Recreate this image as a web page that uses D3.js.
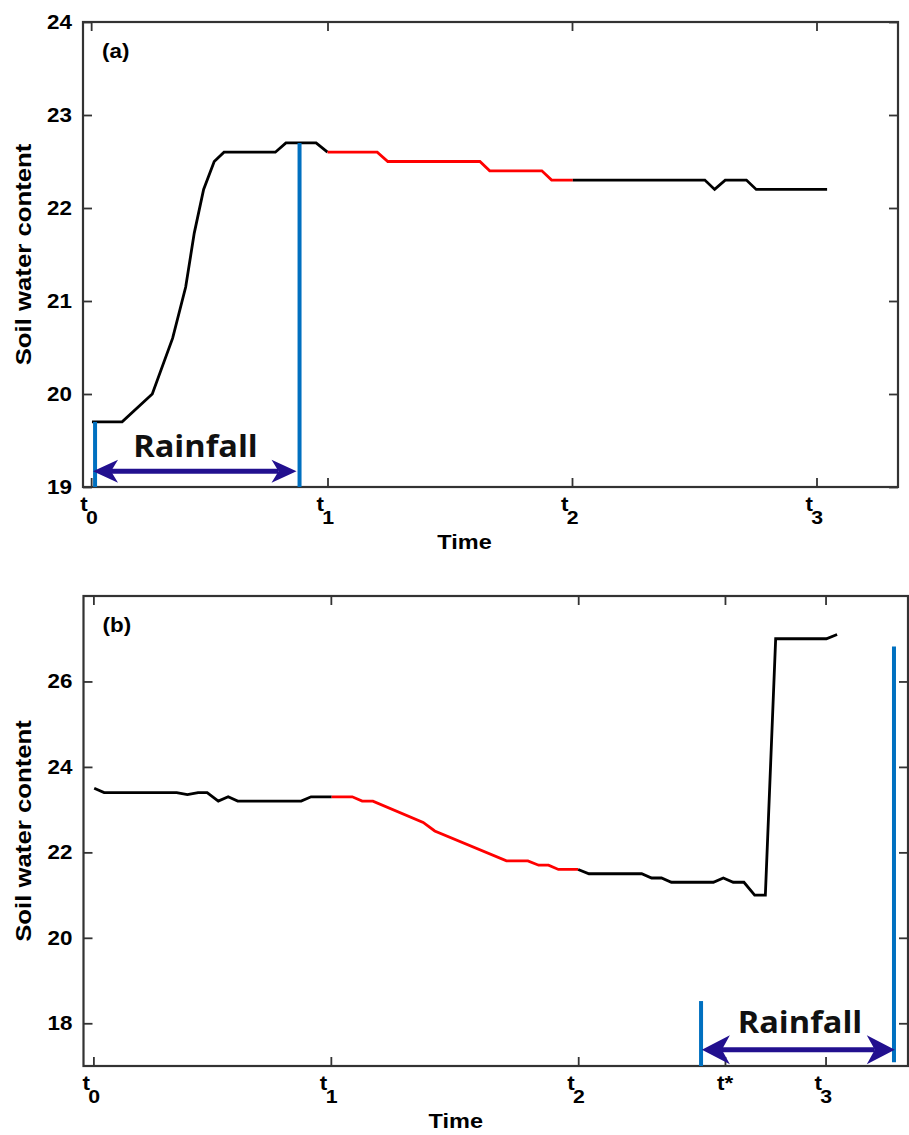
<!DOCTYPE html>
<html>
<head>
<meta charset="utf-8">
<script src="https://cdn.jsdelivr.net/npm/d3@7"></script>
<style>
  html, body { margin: 0; padding: 0; background: #ffffff; }
  svg { display: block; }
</style>
</head>
<body>
<svg id="chart" width="909" height="1135"></svg>
<script>
// ---------------- DATA ----------------
// Panel (a)
const timeA = [1.1, 4.8, 8.5, 11.0, 12.6, 13.65, 14.8, 16.1, 17.3, 23.6,
               24.9, 28.6, 30.0, 36.1, 37.4, 48.7, 49.9, 56.3, 57.5, 60.1,
               76.3, 77.5, 78.8, 81.4, 82.6, 91.3];
const valA  = [19.7, 19.7, 20.0, 20.6, 21.15, 21.73, 22.2, 22.5, 22.6, 22.6,
               22.7, 22.7, 22.6, 22.6, 22.5, 22.5, 22.4, 22.4, 22.3, 22.3,
               22.3, 22.2, 22.3, 22.3, 22.2, 22.2];
const redRangeA = [30.0, 60.1];
const yTicksA = [19, 20, 21, 22, 23, 24];
const xTicksA = [1, 30, 60, 90];
const xTickLabelsA = [["t", "0"], ["t", "1"], ["t", "2"], ["t", "3"]];
const rainA = { start: 1.48, end: 26.57, startTop: 19.7, endTop: 22.7, bottom: 19.0,
                arrowFrom: 1.23, arrowTo: 26.2, arrowAt: 19.17, textAt: 13.8, textY: 19.32 };

// Panel (b)
const timeB = [1.3, 2.5, 11.3, 12.6, 13.9, 15.0, 16.35, 17.55, 18.7, 26.4,
               27.6, 30.1, 32.6, 33.8, 35.1, 41.2, 42.6, 51.3, 53.9, 55.2,
               56.4, 57.6, 60.0, 61.3, 67.7, 68.9, 70.1, 71.3, 76.4, 77.6,
               78.8, 80.1, 81.4, 82.7, 83.95, 90.1, 91.4];
const valB  = [23.5, 23.4, 23.4, 23.35, 23.4, 23.4, 23.2, 23.3, 23.2, 23.2,
               23.3, 23.3, 23.3, 23.2, 23.2, 22.7, 22.5, 21.8, 21.8, 21.7,
               21.7, 21.6, 21.6, 21.5, 21.5, 21.4, 21.4, 21.3, 21.3, 21.4,
               21.3, 21.3, 21.0, 21.0, 27.0, 27.0, 27.1];
const redRangeB = [30.1, 60.0];
const yTicksB = [18, 20, 22, 24, 26];
const xTicksB = [1.2, 30, 60, 77.8, 90];
const xTickLabelsB = [["t", "0"], ["t", "1"], ["t", "2"], ["t*", ""], ["t", "3"]];
const rainB = { start: 74.9, end: 98.3, startTop: 18.52, endTop: 26.82, bottom: 17.0, endBottom: 17.09,
                arrowFrom: 75.0, arrowTo: 98.4, arrowAt: 17.38, textAt: 86.9, textY: 17.78 };

// ---------------- LAYOUT ----------------
const panels = [
  { id: "a", label: "(a)", time: timeA, val: valA, red: redRangeA,
    yDomain: [19, 24], yTicks: yTicksA, xTicks: xTicksA, xLabels: xTickLabelsA, rain: rainA,
    left: 83, right: 898, top: 22, bottom: 487, head: { L: 25, H: 11.5, N: 7 } },
  { id: "b", label: "(b)", time: timeB, val: valB, red: redRangeB,
    yDomain: [17, 28], yTicks: yTicksB, xTicks: xTicksB, xLabels: xTickLabelsB, rain: rainB,
    left: 83.5, right: 908, top: 596, bottom: 1066, head: { L: 28, H: 14.5, N: 8 } }
];

const svg = d3.select("#chart");
const FONT = "'Liberation Sans', Arial, Helvetica, sans-serif";
const SX = 1.12;
const axisColor = "#333333";
const blue = "#0070c0";
const navy = "#22108f";

panels.forEach(p => {
  const x = d3.scaleLinear().domain([0, 100]).range([p.left, p.right]);
  const y = d3.scaleLinear().domain(p.yDomain).range([p.bottom, p.top]);
  const g = svg.append("g");

  // ticks (inward) on all four sides
  const tickStyle = sel => {
    sel.select(".domain").remove();
    sel.selectAll(".tick line").attr("stroke", axisColor).attr("stroke-width", 1.8);
  };
  g.append("g").attr("transform", `translate(${p.left},0)`)
    .call(d3.axisLeft(y).tickValues(p.yTicks).tickFormat(d3.format("d"))
      .tickSize(-9).tickSizeOuter(0).tickPadding(12))
    .call(tickStyle)
    .call(s => s.selectAll(".tick text")
      .attr("font-family", FONT).attr("font-size", 20).attr("font-weight", "bold")
      .attr("fill", "#000").attr("transform", `scale(${SX},1)`).attr("x", -11 / SX));
  g.append("g").attr("transform", `translate(${p.right},0)`)
    .call(d3.axisRight(y).tickValues(p.yTicks).tickSize(-9).tickSizeOuter(0).tickFormat(""))
    .call(tickStyle);
  g.append("g").attr("transform", `translate(0,${p.bottom})`)
    .call(d3.axisBottom(x).tickValues(p.xTicks).tickSize(-9).tickSizeOuter(0).tickFormat(""))
    .call(tickStyle);
  g.append("g").attr("transform", `translate(0,${p.top})`)
    .call(d3.axisTop(x).tickValues(p.xTicks).tickSize(-9).tickSizeOuter(0).tickFormat(""))
    .call(tickStyle);

  // frame
  g.append("rect")
    .attr("x", p.left).attr("y", p.top)
    .attr("width", p.right - p.left).attr("height", p.bottom - p.top)
    .attr("fill", "none").attr("stroke", axisColor).attr("stroke-width", 2.2);

  // x tick labels: t with subscript (single text, tspans)
  const xl = g.append("g").selectAll("text").data(p.xTicks).join("text")
    .attr("transform", (d, i) => `translate(${x(d) + (p.xLabels[i][1] ? -11 : -8)},${p.bottom + 24}) scale(${SX},1)`)
    .attr("text-anchor", "start")
    .attr("font-family", FONT).attr("font-weight", "bold");
  xl.append("tspan")
    .attr("font-size", 20)
    .text((d, i) => p.xLabels[i][0]);
  xl.append("tspan")
    .attr("font-size", 19).attr("dx", -1.5).attr("dy", 13)
    .text((d, i) => p.xLabels[i][1]);

  // axis titles
  g.append("text")
    .attr("transform", `translate(${(p.left + p.right) / 2 - (p.id === "b" ? 40 : 26)},${p.bottom + 62}) scale(${SX},1)`)
    .attr("text-anchor", "middle")
    .attr("font-family", FONT).attr("font-size", 21).attr("font-weight", "bold")
    .text("Time");
  g.append("text")
    .attr("transform", `translate(31,${(p.top + p.bottom) / 2}) rotate(-90) scale(${SX},1)`)
    .attr("text-anchor", "middle")
    .attr("font-family", FONT).attr("font-size", 23).attr("font-weight", "bold")
    .text("Soil water content");

  // panel label
  g.append("text")
    .attr("transform", `translate(${p.left + 19},${p.top + 36}) scale(${SX},1)`)
    .attr("font-family", FONT).attr("font-size", 20).attr("font-weight", "bold")
    .text(p.label);

  // curve
  const pts = p.time.map((t, i) => [t, p.val[i]]);
  const line = d3.line().x(d => x(d[0])).y(d => y(d[1]));
  const seg1 = pts.filter(d => d[0] <= p.red[0]);
  const seg2 = pts.filter(d => d[0] >= p.red[0] && d[0] <= p.red[1]);
  const seg3 = pts.filter(d => d[0] >= p.red[1]);
  [[seg1, "#000000"], [seg2, "#ff0000"], [seg3, "#000000"]].forEach(([s, c]) => {
    g.append("path").datum(s).attr("d", line)
      .attr("fill", "none").attr("stroke", c).attr("stroke-width", 2.8)
      .attr("stroke-linejoin", "miter").attr("stroke-linecap", "butt");
  });

  // rainfall markers
  const r = p.rain;
  g.append("line")
    .attr("x1", x(r.start)).attr("x2", x(r.start))
    .attr("y1", y(r.startTop)).attr("y2", y(r.bottom))
    .attr("stroke", blue).attr("stroke-width", 4);
  g.append("line")
    .attr("x1", x(r.end)).attr("x2", x(r.end))
    .attr("y1", y(r.endTop)).attr("y2", y(r.endBottom !== undefined ? r.endBottom : r.bottom))
    .attr("stroke", blue).attr("stroke-width", 4);

  // double-headed arrow
  const ax1 = x(r.arrowFrom), ax2 = x(r.arrowTo), ay = y(r.arrowAt);
  const h = p.head;
  g.append("line")
    .attr("x1", ax1 + h.L - h.N).attr("x2", ax2 - h.L + h.N)
    .attr("y1", ay).attr("y2", ay)
    .attr("stroke", navy).attr("stroke-width", 5);
  g.append("path")
    .attr("d", `M${ax1},${ay} L${ax1 + h.L},${ay - h.H} L${ax1 + h.L - h.N},${ay} L${ax1 + h.L},${ay + h.H} Z`)
    .attr("fill", navy);
  g.append("path")
    .attr("d", `M${ax2},${ay} L${ax2 - h.L},${ay - h.H} L${ax2 - h.L + h.N},${ay} L${ax2 - h.L},${ay + h.H} Z`)
    .attr("fill", navy);
  g.append("text")
    .attr("transform", `translate(${x(r.textAt)},${y(r.textY)}) scale(1.05,1)`)
    .attr("text-anchor", "middle")
    .attr("font-family", "'Open Sans', 'Noto Sans', sans-serif")
    .attr("font-size", 31).attr("font-weight", 700)
    .attr("fill", "#111")
    .text("Rainfall");
});
</script>
</body>
</html>
